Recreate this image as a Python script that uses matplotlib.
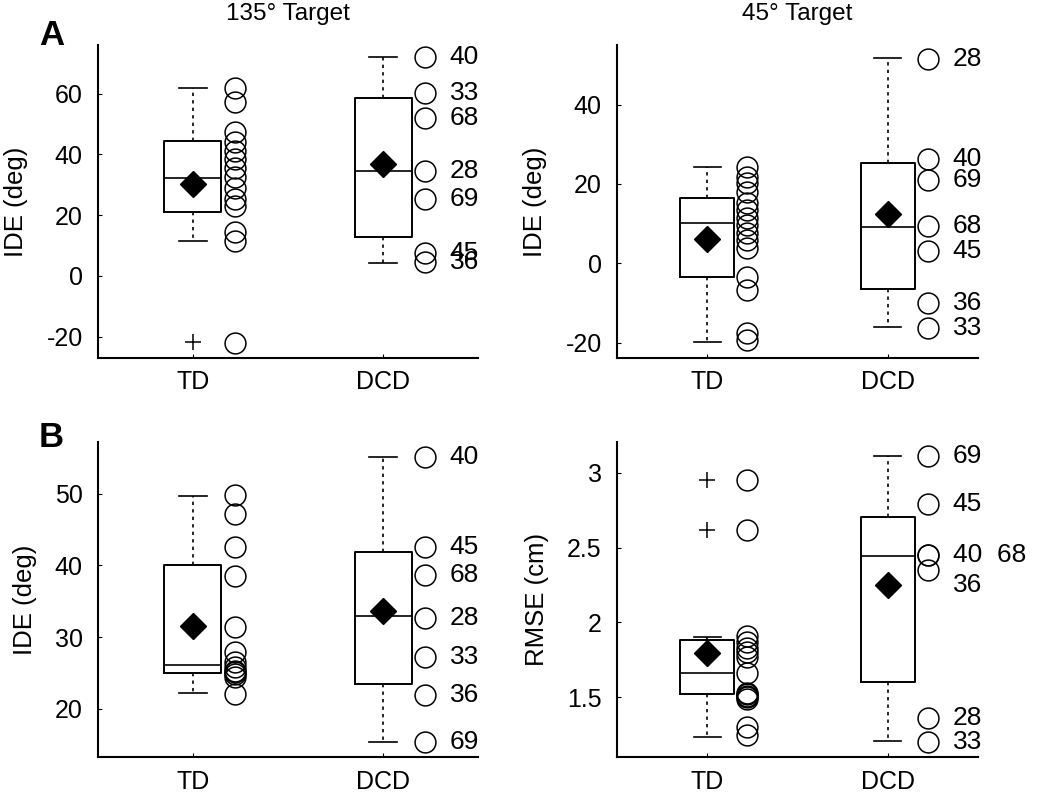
import numpy as np
import matplotlib.pyplot as plt

plt.rcParams['font.family'] = ['Liberation Sans', 'DejaVu Sans']
plt.rcParams['axes.unicode_minus'] = False

groups = ["TD", "DCD"]

# box stats per group: whislo, q1, median, q3, whishi, mean
# --- A, 135 deg target
a135_td = [61.9, 57.4, 47.3, 44.0, 41.0, 38.5, 35.5, 32.5, 29.0, 25.5, 23.0, 14.4, 11.6, -22.2]
a135_td_box = [11.6, 21.1, 32.2, 44.4, 61.8, 30.3]
a135_td_out = [-21.8]
a135_dcd = [72.1, 60.2, 52.0, 34.4, 25.4, 7.5, 4.7]
a135_dcd_ids = ["40", "33", "68", "28", "69", "45", "36"]
a135_dcd_box = [4.2, 12.7, 34.4, 58.5, 72.0, 36.9]

# --- A, 45 deg target
a45_td = [24.3, 21.8, 20.3, 18.0, 15.1, 13.4, 11.3, 9.6, 7.6, 5.9, 3.8, -3.4, -6.7, -17.6, -19.3]
a45_td_box = [-19.9, -3.6, 10.1, 16.4, 24.2, 6.1]
a45_td_out = []
a45_dcd = [51.6, 26.4, 21.0, 9.4, 3.2, -10.1, -16.4]
a45_dcd_ids = ["28", "40", "69", "68", "45", "36", "33"]
a45_dcd_box = [-16.0, -6.4, 9.2, 25.3, 51.8, 12.3]

# --- B, IDE
b_ide_td = [49.8, 47.2, 42.6, 38.5, 31.4, 27.9, 26.5, 25.8, 25.3, 25.1, 24.8, 24.4, 22.1]
b_ide_td_box = [22.2, 25.0, 26.1, 40.1, 49.6, 31.6]
b_ide_td_out = []
b_ide_dcd = [55.1, 42.5, 38.7, 32.7, 27.2, 21.9, 15.3]
b_ide_dcd_ids = ["40", "45", "68", "28", "33", "36", "69"]
b_ide_dcd_box = [15.4, 23.5, 32.9, 41.8, 55.1, 33.6]

# --- B, RMSE
b_rmse_td = [2.95, 2.62, 1.91, 1.87, 1.83, 1.80, 1.77, 1.66, 1.53, 1.52, 1.51, 1.50, 1.49, 1.30, 1.25]
b_rmse_td_box = [1.236, 1.52, 1.66, 1.879, 1.90, 1.794]
b_rmse_td_out = [2.95, 2.616]
b_rmse_dcd = [3.11, 2.79, 2.45, 2.45, 2.35, 1.36, 1.20]
b_rmse_dcd_ids = ["69", "45", "40  68", "", "36", "28", "33"]
b_rmse_dcd_box = [1.207, 1.604, 2.446, 2.703, 3.111, 2.247]


def make_stats(box, out):
    return {"whislo": box[0], "q1": box[1], "med": box[2], "q3": box[3],
            "whishi": box[4], "mean": box[5], "fliers": out}


def draw_panel(ax, td, td_box, td_out, dcd, dcd_ids, dcd_box,
               ylim, yticks, ylabel, label_nudge=None):
    stats = [make_stats(td_box, td_out), make_stats(dcd_box, [])]
    ax.bxp(stats, positions=[1, 2], widths=0.3, capwidths=0.15,
           showmeans=True, showfliers=True,
           boxprops=dict(color="black", lw=1.4),
           medianprops=dict(color="black", lw=1.2),
           whiskerprops=dict(color="black", lw=1.2, ls=(0, (2, 2.5))),
           capprops=dict(color="black", lw=1.2),
           meanprops=dict(marker="D", markerfacecolor="black",
                          markeredgecolor="black", markersize=13),
           flierprops=dict(marker="+", markeredgecolor="black",
                           markersize=11, markeredgewidth=1.1))

    # individual subjects
    ax.plot(np.full(len(td), 1.22), td, "o", mfc="none", mec="black",
            ms=15, mew=1.1)
    ax.plot(np.full(len(dcd), 2.22), dcd, "o", mfc="none", mec="black",
            ms=15, mew=1.1)
    for i, (v, lab) in enumerate(zip(dcd, dcd_ids)):
        dy = 0
        if label_nudge is not None:
            dy = label_nudge[i]
        ax.annotate(lab, (2.22, v), xytext=(18, dy), textcoords="offset points",
                    va="center", ha="left", fontsize=19, annotation_clip=False)

    ax.set_xlim(0.5, 2.5)
    ax.set_ylim(*ylim)
    ax.set_yticks(yticks)
    ax.set_xticks([1, 2])
    ax.set_xticklabels(groups)
    ax.set_ylabel(ylabel, fontsize=18.5, labelpad=13)
    for s in ["top", "right"]:
        ax.spines[s].set_visible(False)
    for s in ["left", "bottom"]:
        ax.spines[s].set_linewidth(1.5)
    ax.tick_params(direction="in", length=3, labelsize=18)
    ax.tick_params(axis="x", pad=9)
    ax.tick_params(axis="y", pad=11)


fig = plt.figure(figsize=(10.5, 7.92), dpi=100)

ax1 = fig.add_axes([0.0933, 0.548, 0.362, 0.395])
ax2 = fig.add_axes([0.5876, 0.548, 0.344, 0.395])
ax3 = fig.add_axes([0.0933, 0.044, 0.362, 0.398])
ax4 = fig.add_axes([0.5876, 0.044, 0.344, 0.398])

draw_panel(ax1, a135_td, a135_td_box, a135_td_out, a135_dcd, a135_dcd_ids,
           a135_dcd_box, (-27, 76), [-20, 0, 20, 40, 60], "IDE (deg)")
draw_panel(ax2, a45_td, a45_td_box, a45_td_out, a45_dcd, a45_dcd_ids,
           a45_dcd_box, (-23.9, 55), [-20, 0, 20, 40], "IDE (deg)")
draw_panel(ax3, b_ide_td, b_ide_td_box, b_ide_td_out, b_ide_dcd, b_ide_dcd_ids,
           b_ide_dcd_box, (13.25, 57.2), [20, 30, 40, 50], "IDE (deg)")
draw_panel(ax4, b_rmse_td, b_rmse_td_box, b_rmse_td_out, b_rmse_dcd,
           b_rmse_dcd_ids, b_rmse_dcd_box, (1.10, 3.205), [1.5, 2, 2.5, 3],
           "RMSE (cm)", label_nudge=[0, 0, 0, 0, -11, 0, 0])
ax4.set_yticklabels(["1.5", "2", "2.5", "3"])

ax1.set_title("135° Target", fontsize=17.5, pad=18)
ax2.set_title("45° Target", fontsize=17.5, pad=18)

fig.text(0.037, 0.943, "A", fontsize=25, fontweight="bold")
fig.text(0.037, 0.435, "B", fontsize=25, fontweight="bold")

plt.savefig("out.png", dpi=100)
